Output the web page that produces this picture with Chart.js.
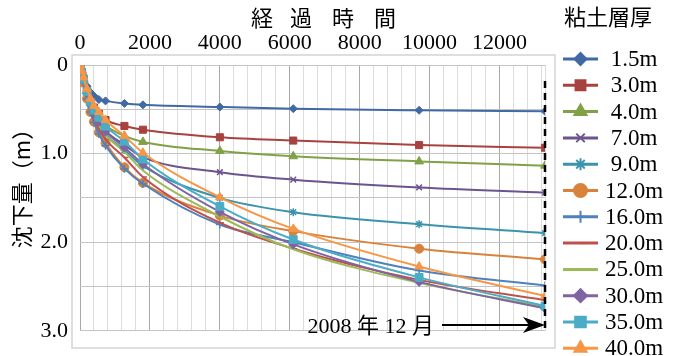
<!DOCTYPE html>
<html>
<head>
<meta charset="utf-8">
<script src="https://cdn.jsdelivr.net/npm/chart.js@4.4.0/dist/chart.umd.min.js"></script>
<style>
html,body{margin:0;padding:0;background:#fff;}
#wrap{width:674px;height:356px;position:relative;}
</style>
</head>
<body>
<div id="wrap"><canvas id="c" width="674" height="356"></canvas></div>
<script>
// elapsed time (days)
const days = [0, 50, 100, 200, 300, 400, 540, 730, 1270, 1800, 4000, 6100, 9700, 13300];
// clay layer thickness (legend labels)
const thicknessLabels = ['1.5m', '3.0m', '4.0m', '7.0m', '9.0m', '12.0m', '16.0m', '20.0m', '25.0m', '30.0m', '35.0m', '40.0m'];
// settlement (m)
const s1_5 = [0, 0.07, 0.13, 0.24, 0.31, 0.35, 0.39, 0.405, 0.434, 0.45, 0.474, 0.493, 0.511, 0.523];
const s3_0 = [0, 0.08, 0.15, 0.29, 0.40, 0.48, 0.55, 0.62, 0.688, 0.73, 0.816, 0.853, 0.904, 0.934];
const s4_0 = [0, 0.08, 0.15, 0.29, 0.41, 0.50, 0.59, 0.68, 0.80, 0.868, 0.97, 1.03, 1.088, 1.136];
const s7_0 = [0, 0.08, 0.16, 0.31, 0.43, 0.53, 0.63, 0.74, 0.90, 1.04, 1.21, 1.294, 1.382, 1.441];
const s9_0 = [0, 0.09, 0.17, 0.32, 0.45, 0.55, 0.66, 0.78, 0.96, 1.14, 1.50, 1.661, 1.797, 1.897];
const s12_0 = [0, 0.10, 0.20, 0.38, 0.53, 0.64, 0.76, 0.88, 1.154, 1.33, 1.70, 1.875, 2.073, 2.194];
const s16_0 = [0, 0.10, 0.20, 0.38, 0.53, 0.65, 0.78, 0.91, 1.17, 1.34, 1.80, 2.00, 2.32, 2.488];
const s20_0 = [0, 0.09, 0.19, 0.36, 0.50, 0.61, 0.72, 0.84, 1.044, 1.265, 1.78, 2.073, 2.425, 2.654];
const s25_0 = [0, 0.09, 0.18, 0.34, 0.48, 0.58, 0.68, 0.79, 0.98, 1.19, 1.71, 2.08, 2.459, 2.73];
const s30_0 = [0, 0.09, 0.17, 0.32, 0.45, 0.55, 0.64, 0.75, 0.93, 1.118, 1.658, 2.025, 2.448, 2.746];
const s35_0 = [0, 0.08, 0.16, 0.30, 0.42, 0.51, 0.59, 0.69, 0.86, 1.063, 1.595, 1.97, 2.397, 2.72];
const s40_0 = [0, 0.07, 0.14, 0.27, 0.38, 0.46, 0.53, 0.62, 0.80, 0.99, 1.493, 1.85, 2.275, 2.606];
const seriesValues = [s1_5, s3_0, s4_0, s7_0, s9_0, s12_0, s16_0, s20_0, s25_0, s30_0, s35_0, s40_0];
// axis ticks
const xMax = 13300;
const xMinorStep = 400;
const xLabelStep = 2000;
const xLabelMax = 12000;
const yTickValues = [0, 0.5, 1.0, 1.5, 2.0, 2.5, 3.0];
const yLabelled = ['0', '', '1.0', '', '2.0', '', '3.0'];
// annotation
const markDay = 13300;
const markLabel = '2008 年 12 月';
const xTitle = ['経', '過', '時', '間'];
const yTitle = '沈下量（m）';
const legendTitle = '粘土層厚';

const colors = ['#4069A6', '#A8423F', '#80A146', '#6D5490', '#3B94AB', '#D9823B',
                '#4F81BD', '#C0504D', '#9BBB59', '#8064A2', '#4BACC6', '#F79646'];
const styles = ['rectRot', 'rect', 'triangle', 'crossRot', 'star', 'circle',
                'cross', 'dash', false, 'rectRot', 'rect', 'triangle'];
const radii = [4, 5, 5, 4, 4, 4.5, 4, 4, 0, 4.5, 5.5, 5];

const SERIF = "'Liberation Serif', 'Noto Sans CJK JP', serif";
const CJK = "'Noto Sans CJK JP', sans-serif";

const datasets = seriesValues.map((vals, i) => ({
  label: thicknessLabels[i],
  data: days.map((d, j) => ({x: d, y: vals[j]})),
  borderColor: colors[i],
  backgroundColor: colors[i],
  borderWidth: 2,
  pointStyle: styles[i],
  pointRadius: radii[i],
  pointBorderWidth: (['crossRot', 'star', 'cross', 'dash'].includes(styles[i])) ? 1.5 : 1,
  cubicInterpolationMode: 'monotone',
  order: 12 - i
}));

const decor = {
  id: 'decor',
  beforeDraw(chart) {
    const ctx = chart.ctx;
    ctx.save();
    ctx.fillStyle = '#fff';
    ctx.fillRect(0, 0, chart.width, chart.height);
    ctx.strokeStyle = '#D4D4D4';
    ctx.lineWidth = 1.5;
    ctx.strokeRect(72, 55, 483, 293);
    ctx.restore();
  },
  afterDraw(chart) {
    const ctx = chart.ctx;
    const xs = chart.scales.x, ys = chart.scales.y;
    ctx.save();
    // x title
    ctx.fillStyle = '#000';
    ctx.font = '22px ' + CJK;
    ctx.textAlign = 'center';
    ctx.textBaseline = 'middle';
    const xc = [262, 301, 343, 385];
    xTitle.forEach((ch, i) => ctx.fillText(ch, xc[i], 18));
    // y title
    ctx.save();
    ctx.translate(22, 183);
    ctx.rotate(-Math.PI / 2);
    ctx.fillText(yTitle, 0, 0);
    ctx.restore();
    // dashed reference line
    const xp = xs.getPixelForValue(markDay);
    ctx.strokeStyle = '#000';
    ctx.lineWidth = 2.5;
    ctx.setLineDash([7, 5]);
    ctx.beginPath();
    ctx.moveTo(xp, ys.getPixelForValue(0.18));
    ctx.lineTo(xp, ys.bottom);
    ctx.stroke();
    ctx.setLineDash([]);
    // arrow
    const ay = 325;
    ctx.lineWidth = 2;
    ctx.beginPath();
    ctx.moveTo(442, ay);
    ctx.lineTo(xp - 8, ay);
    ctx.stroke();
    ctx.beginPath();
    ctx.moveTo(xp, ay);
    ctx.lineTo(xp - 22, ay - 8);
    ctx.lineTo(xp - 16, ay);
    ctx.lineTo(xp - 22, ay + 8);
    ctx.closePath();
    ctx.fill();
    // label
    ctx.font = '22px ' + SERIF;
    ctx.textAlign = 'right';
    ctx.fillText(markLabel, 434, 327);
    // legend
    ctx.textAlign = 'center';
    ctx.font = '22px ' + CJK;
    ctx.fillText(legendTitle, 608, 17);
    ctx.font = '23px ' + SERIF;
    chart.data.datasets.forEach((ds, i) => {
      const y = 59 + i * 26.3;
      ctx.strokeStyle = ds.borderColor;
      ctx.fillStyle = ds.backgroundColor;
      ctx.lineWidth = 3;
      ctx.beginPath();
      ctx.moveTo(563, y);
      ctx.lineTo(598, y);
      ctx.stroke();
      if (ds.pointStyle) {
        ctx.lineWidth = 2;
        Chart.helpers.drawPoint(ctx, {pointStyle: ds.pointStyle, radius: ds.pointRadius + 2, rotation: 0, borderWidth: 2}, 580.5, y);
      }
      ctx.fillStyle = '#000';
      ctx.fillText(ds.label, 634, y + 1);
    });
    ctx.restore();
  }
};

new Chart(document.getElementById('c'), {
  type: 'line',
  data: { datasets },
  plugins: [decor],
  options: {
    responsive: false,
    animation: false,
    layout: { padding: { left: 0, right: 129, top: 0, bottom: 18 } },
    plugins: { legend: { display: false }, tooltip: { enabled: false } },
    scales: {
      x: {
        type: 'linear', position: 'top', min: 0, max: xMax,
        afterFit(s) { s.height = 65; },
        afterBuildTicks(s) {
          const t = [];
          for (let v = 0; v < xMax; v += xMinorStep) t.push({ value: v });
          t.push({ value: xMax });
          s.ticks = t;
        },
        grid: {
          color: c => (c.tick && c.tick.value % xLabelStep === 0) ? '#A8A8A8' : '#DCDCDC',
          drawTicks: false, lineWidth: 1
        },
        border: { display: false },
        ticks: {
          autoSkip: false, maxRotation: 0, minRotation: 0, padding: 9,
          color: '#000', font: { family: SERIF, size: 22 },
          callback: v => (v % xLabelStep === 0 && v <= xLabelMax) ? String(v) : ''
        }
      },
      y: {
        type: 'linear', reverse: true, min: 0, max: 3,
        afterFit(s) { s.width = 80; },
        afterBuildTicks(s) { s.ticks = yTickValues.map(v => ({ value: v })); },
        grid: { color: '#C4C4C4', drawTicks: false, lineWidth: 1 },
        border: { display: false },
        ticks: {
          autoSkip: false, padding: 12, color: '#000', font: { family: SERIF, size: 22 },
          callback: (v, i) => yLabelled[i]
        }
      }
    }
  }
});
</script>
</body>
</html>
